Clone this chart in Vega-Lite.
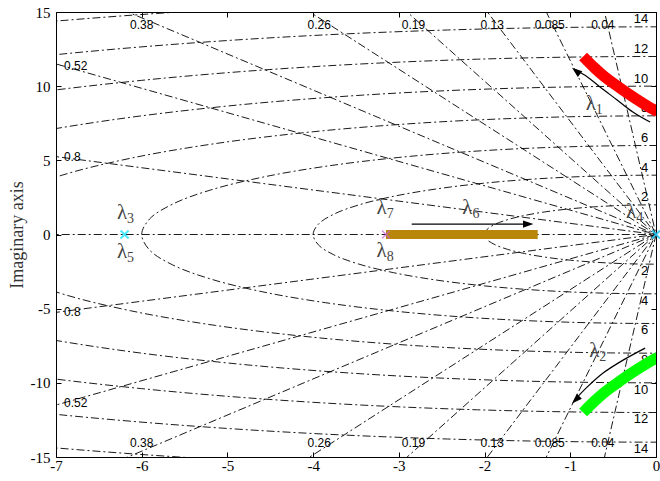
{
  "$schema": "https://vega.github.io/schema/vega-lite/v6.json",
  "width": 600,
  "height": 445,
  "autosize": "none",
  "padding": {"left": 56, "top": 12, "right": 4, "bottom": 24},
  "background": "white",
  "config": {"view": {"stroke": "black", "strokeWidth": 1}},
  "datasets": {
    "circles": [
      {"g":"c2","x":0.347,"y":-1.970},{"g":"c2","x":0,"y":-2},{"g":"c2","x":-0.347,"y":-1.970},{"g":"c2","x":-0.684,"y":-1.879},{"g":"c2","x":-1,"y":-1.732},{"g":"c2","x":-1.286,"y":-1.532},{"g":"c2","x":-1.532,"y":-1.286},{"g":"c2","x":-1.732,"y":-1},{"g":"c2","x":-1.879,"y":-0.684},{"g":"c2","x":-1.970,"y":-0.347},{"g":"c2","x":-2,"y":0},{"g":"c2","x":-1.970,"y":0.347},{"g":"c2","x":-1.879,"y":0.684},{"g":"c2","x":-1.732,"y":1},{"g":"c2","x":-1.532,"y":1.286},{"g":"c2","x":-1.286,"y":1.532},{"g":"c2","x":-1,"y":1.732},{"g":"c2","x":-0.684,"y":1.879},{"g":"c2","x":-0.347,"y":1.970},{"g":"c2","x":0,"y":2},{"g":"c2","x":0.347,"y":1.970},
      {"g":"c4","x":0.695,"y":-3.939},{"g":"c4","x":0,"y":-4},{"g":"c4","x":-0.695,"y":-3.939},{"g":"c4","x":-1.368,"y":-3.759},{"g":"c4","x":-2,"y":-3.464},{"g":"c4","x":-2.571,"y":-3.064},{"g":"c4","x":-3.064,"y":-2.571},{"g":"c4","x":-3.464,"y":-2},{"g":"c4","x":-3.759,"y":-1.368},{"g":"c4","x":-3.939,"y":-0.695},{"g":"c4","x":-4,"y":0},{"g":"c4","x":-3.939,"y":0.695},{"g":"c4","x":-3.759,"y":1.368},{"g":"c4","x":-3.464,"y":2},{"g":"c4","x":-3.064,"y":2.571},{"g":"c4","x":-2.571,"y":3.064},{"g":"c4","x":-2,"y":3.464},{"g":"c4","x":-1.368,"y":3.759},{"g":"c4","x":-0.695,"y":3.939},{"g":"c4","x":0,"y":4},{"g":"c4","x":0.695,"y":3.939},
      {"g":"c6","x":1.042,"y":-5.909},{"g":"c6","x":0,"y":-6},{"g":"c6","x":-1.042,"y":-5.909},{"g":"c6","x":-2.052,"y":-5.638},{"g":"c6","x":-3,"y":-5.196},{"g":"c6","x":-3.857,"y":-4.596},{"g":"c6","x":-4.596,"y":-3.857},{"g":"c6","x":-5.196,"y":-3},{"g":"c6","x":-5.638,"y":-2.052},{"g":"c6","x":-5.909,"y":-1.042},{"g":"c6","x":-6,"y":0},{"g":"c6","x":-5.909,"y":1.042},{"g":"c6","x":-5.638,"y":2.052},{"g":"c6","x":-5.196,"y":3},{"g":"c6","x":-4.596,"y":3.857},{"g":"c6","x":-3.857,"y":4.596},{"g":"c6","x":-3,"y":5.196},{"g":"c6","x":-2.052,"y":5.638},{"g":"c6","x":-1.042,"y":5.909},{"g":"c6","x":0,"y":6},{"g":"c6","x":1.042,"y":5.909},
      {"g":"c8","x":1.389,"y":-7.878},{"g":"c8","x":0,"y":-8},{"g":"c8","x":-1.389,"y":-7.878},{"g":"c8","x":-2.736,"y":-7.518},{"g":"c8","x":-4,"y":-6.928},{"g":"c8","x":-5.142,"y":-6.128},{"g":"c8","x":-6.128,"y":-5.142},{"g":"c8","x":-6.928,"y":-4},{"g":"c8","x":-7.518,"y":-2.736},{"g":"c8","x":-7.878,"y":-1.389},{"g":"c8","x":-8,"y":0},{"g":"c8","x":-7.878,"y":1.389},{"g":"c8","x":-7.518,"y":2.736},{"g":"c8","x":-6.928,"y":4},{"g":"c8","x":-6.128,"y":5.142},{"g":"c8","x":-5.142,"y":6.128},{"g":"c8","x":-4,"y":6.928},{"g":"c8","x":-2.736,"y":7.518},{"g":"c8","x":-1.389,"y":7.878},{"g":"c8","x":0,"y":8},{"g":"c8","x":1.389,"y":7.878},
      {"g":"c10u","x":-8.660,"y":5},{"g":"c10u","x":-7.660,"y":6.428},{"g":"c10u","x":-6.428,"y":7.660},{"g":"c10u","x":-5,"y":8.660},{"g":"c10u","x":-3.420,"y":9.397},{"g":"c10u","x":-1.736,"y":9.848},{"g":"c10u","x":0,"y":10},{"g":"c10u","x":1.736,"y":9.848},
      {"g":"c10l","x":-8.660,"y":-5},{"g":"c10l","x":-7.660,"y":-6.428},{"g":"c10l","x":-6.428,"y":-7.660},{"g":"c10l","x":-5,"y":-8.660},{"g":"c10l","x":-3.420,"y":-9.397},{"g":"c10l","x":-1.736,"y":-9.848},{"g":"c10l","x":0,"y":-10},{"g":"c10l","x":1.736,"y":-9.848},
      {"g":"c12u","x":-9.193,"y":7.713},{"g":"c12u","x":-7.713,"y":9.193},{"g":"c12u","x":-6,"y":10.392},{"g":"c12u","x":-4.104,"y":11.276},{"g":"c12u","x":-2.084,"y":11.818},{"g":"c12u","x":0,"y":12},{"g":"c12u","x":2.084,"y":11.818},
      {"g":"c12l","x":-9.193,"y":-7.713},{"g":"c12l","x":-7.713,"y":-9.193},{"g":"c12l","x":-6,"y":-10.392},{"g":"c12l","x":-4.104,"y":-11.276},{"g":"c12l","x":-2.084,"y":-11.818},{"g":"c12l","x":0,"y":-12},{"g":"c12l","x":2.084,"y":-11.818},
      {"g":"c14u","x":-8.999,"y":10.724},{"g":"c14u","x":-7,"y":12.124},{"g":"c14u","x":-4.788,"y":13.156},{"g":"c14u","x":-2.431,"y":13.787},{"g":"c14u","x":0,"y":14},{"g":"c14u","x":2.431,"y":13.787},
      {"g":"c14l","x":-8.999,"y":-10.724},{"g":"c14l","x":-7,"y":-12.124},{"g":"c14l","x":-4.788,"y":-13.156},{"g":"c14l","x":-2.431,"y":-13.787},{"g":"c14l","x":0,"y":-14},{"g":"c14l","x":2.431,"y":-13.787},
      {"g":"c16u","x":-10.285,"y":12.257},{"g":"c16u","x":-8,"y":13.856},{"g":"c16u","x":-5.472,"y":15.035},{"g":"c16u","x":-2.778,"y":15.757},{"g":"c16u","x":0,"y":16},{"g":"c16u","x":2.778,"y":15.757},
      {"g":"c16l","x":-10.285,"y":-12.257},{"g":"c16l","x":-8,"y":-13.856},{"g":"c16l","x":-5.472,"y":-15.035},{"g":"c16l","x":-2.778,"y":-15.757},{"g":"c16l","x":0,"y":-16},{"g":"c16l","x":2.778,"y":-15.757}
    ],
    "rays": [
      {"g":"z04","x":-0.8,"y":19.984},{"g":"z04","x":0,"y":0},{"g":"z04","x":-0.8,"y":-19.984},
      {"g":"z085","x":-1.7,"y":19.928},{"g":"z085","x":0,"y":0},{"g":"z085","x":-1.7,"y":-19.928},
      {"g":"z13","x":-2.6,"y":19.830},{"g":"z13","x":0,"y":0},{"g":"z13","x":-2.6,"y":-19.830},
      {"g":"z19","x":-3.8,"y":19.636},{"g":"z19","x":0,"y":0},{"g":"z19","x":-3.8,"y":-19.636},
      {"g":"z26","x":-5.2,"y":19.312},{"g":"z26","x":0,"y":0},{"g":"z26","x":-5.2,"y":-19.312},
      {"g":"z38","x":-7.6,"y":18.5},{"g":"z38","x":0,"y":0},{"g":"z38","x":-7.6,"y":-18.5},
      {"g":"z52","x":-10.4,"y":17.083},{"g":"z52","x":0,"y":0},{"g":"z52","x":-10.4,"y":-17.083},
      {"g":"z8","x":-16,"y":12},{"g":"z8","x":0,"y":0},{"g":"z8","x":-16,"y":-12},
      {"g":"z1","x":-20,"y":0},{"g":"z1","x":0,"y":0}
    ],
    "zetaLabels": [
      {"t":"0.38","x":-6.0,"y":14.1},{"t":"0.26","x":-3.93,"y":14.1},{"t":"0.19","x":-2.83,"y":14.1},{"t":"0.13","x":-1.91,"y":14.1},{"t":"0.085","x":-1.24,"y":14.1},{"t":"0.04","x":-0.62,"y":14.1},
      {"t":"0.38","x":-6.0,"y":-14.05},{"t":"0.26","x":-3.93,"y":-14.05},{"t":"0.19","x":-2.83,"y":-14.05},{"t":"0.13","x":-1.91,"y":-14.05},{"t":"0.085","x":-1.24,"y":-14.05},{"t":"0.04","x":-0.62,"y":-14.05},
      {"t":"0.52","x":-6.77,"y":11.33},{"t":"0.52","x":-6.77,"y":-11.33},{"t":"0.8","x":-6.81,"y":5.2},{"t":"0.8","x":-6.81,"y":-5.2}
    ],
    "omegaLabels": [
      {"t":"2","x":-0.09,"y":2.5},{"t":"4","x":-0.09,"y":4.5},{"t":"6","x":-0.09,"y":6.5},{"t":"8","x":-0.09,"y":8.5},{"t":"10","x":-0.09,"y":10.5},{"t":"12","x":-0.09,"y":12.5},{"t":"14","x":-0.09,"y":14.5},
      {"t":"2","x":-0.09,"y":-2.45},{"t":"4","x":-0.09,"y":-4.45},{"t":"6","x":-0.09,"y":-6.45},{"t":"8","x":-0.09,"y":-8.45},{"t":"10","x":-0.09,"y":-10.45},{"t":"12","x":-0.09,"y":-12.45},{"t":"14","x":-0.09,"y":-14.45}
    ],
    "lam1": [
      {"x":-0.85,"y":12.0},{"x":-0.72,"y":11.25},{"x":-0.617,"y":10.72},{"x":-0.42,"y":9.88},{"x":-0.22,"y":9.1},{"x":-0.03,"y":8.43},{"x":0.02,"y":8.28}
    ],
    "lam2": [
      {"x":-0.85,"y":-12.0},{"x":-0.72,"y":-11.25},{"x":-0.617,"y":-10.72},{"x":-0.42,"y":-9.88},{"x":-0.22,"y":-9.1},{"x":-0.03,"y":-8.43},{"x":0.02,"y":-8.28}
    ],
    "lam6": [{"x":-3.15,"y":0},{"x":-1.38,"y":0}],
    "poleCyan": [{"x":-6.2,"y":0},{"x":0,"y":0}],
    "poleMag": [{"x":0,"y":0},{"x":-3.15,"y":0}],
    "arrows": [
      {"g":"a1","x":-0.069,"y":7.58},{"g":"a1","x":-0.27,"y":8.26},{"g":"a1","x":-0.454,"y":9.07},{"g":"a1","x":-0.653,"y":9.94},{"g":"a1","x":-0.80,"y":10.62},{"g":"a1","x":-0.94,"y":11.1},
      {"g":"a2","x":-0.127,"y":-7.66},{"g":"a2","x":-0.384,"y":-8.47},{"g":"a2","x":-0.617,"y":-9.34},{"g":"a2","x":-0.804,"y":-10.29},{"g":"a2","x":-0.94,"y":-11.1},
      {"g":"a6","x":-2.85,"y":0.70},{"g":"a6","x":-1.5,"y":0.70}
    ],
    "head1": [{"x":-0.98,"y":11.25}],
    "head2": [{"x":-0.98,"y":-11.4}],
    "head6": [{"x":-1.43,"y":0.70}],
    "lamLabels": [
      {"d":"1","x":-0.76,"y":8.8},{"d":"2","x":-0.72,"y":-7.86},{"d":"3","x":-6.23,"y":1.45},{"d":"5","x":-6.23,"y":-1.18},
      {"d":"7","x":-3.2,"y":1.78},{"d":"8","x":-3.2,"y":-1.12},{"d":"6","x":-2.2,"y":1.78},{"d":"4","x":-0.29,"y":1.51}
    ]
  },
  "encoding": {
    "x": {"field": "x", "type": "quantitative", "scale": {"domain": [-7, 0], "nice": false, "zero": false}, "axis": null},
    "y": {"field": "y", "type": "quantitative", "scale": {"domain": [-15, 15], "nice": false, "zero": false}, "axis": null}
  },
  "layer": [
    {
      "data": {"name": "circles"},
      "mark": {"type": "line", "clip": true, "interpolate": "catmull-rom", "color": "black", "strokeWidth": 0.9, "strokeDash": [8, 3, 2, 3]},
      "encoding": {
        "detail": {"field": "g"},
        "order": {"value": null},
        "x": {"field": "x", "type": "quantitative", "scale": {"domain": [-7, 0], "nice": false, "zero": false},
              "axis": {"orient": "top", "values": [-7,-6,-5,-4,-3,-2,-1,0], "labels": false, "tickSize": -5, "tickColor": "black", "domain": false, "title": null, "grid": false}},
        "y": {"field": "y", "type": "quantitative", "scale": {"domain": [-15, 15], "nice": false, "zero": false},
              "axis": {"orient": "right", "values": [-15,-10,-5,0,5,10,15], "labels": false, "tickSize": -5, "tickColor": "black", "domain": false, "title": null, "grid": false}}
      }
    },
    {
      "data": {"name": "rays"},
      "mark": {"type": "line", "clip": true, "color": "black", "strokeWidth": 0.9, "strokeDash": [8, 3, 2, 3]},
      "encoding": {
        "detail": {"field": "g"},
        "order": {"value": null},
        "x": {"field": "x", "type": "quantitative", "scale": {"domain": [-7, 0], "nice": false, "zero": false},
              "axis": {"orient": "bottom", "values": [-7,-6,-5,-4,-3,-2,-1,0], "labelExpr": "'' + datum.value", "tickSize": -5, "tickColor": "black", "labelPadding": 6, "labelFont": "Liberation Serif", "labelFontSize": 15, "labelColor": "black", "labelFlush": false, "labelOverlap": false, "domain": false, "title": null, "grid": false}},
        "y": {"field": "y", "type": "quantitative", "scale": {"domain": [-15, 15], "nice": false, "zero": false},
              "axis": {"orient": "left", "values": [-15,-10,-5,0,5,10,15], "labelExpr": "'' + datum.value", "tickSize": -5, "tickColor": "black", "labelPadding": 11, "labelFont": "Liberation Serif", "labelFontSize": 15, "labelColor": "black", "labelFlush": false, "labelOverlap": false, "domain": false, "grid": false,
                       "title": "Imaginary axis", "titleFont": "Liberation Serif", "titleFontSize": 18, "titleFontWeight": "normal", "titleColor": "#333", "titlePadding": 4}}
      }
    },
    {
      "data": {"name": "zetaLabels"},
      "mark": {"type": "text", "font": "Liberation Sans", "fontSize": 12, "color": "black", "align": "center", "baseline": "middle"},
      "encoding": {"text": {"field": "t"}}
    },
    {
      "data": {"name": "omegaLabels"},
      "mark": {"type": "text", "font": "Liberation Sans", "fontSize": 13, "color": "black", "align": "right", "baseline": "middle"},
      "encoding": {"text": {"field": "t"}}
    },
    {
      "data": {"name": "lam1"},
      "mark": {"type": "line", "clip": true, "interpolate": "monotone", "color": "#ff0000", "strokeWidth": 11},
      "encoding": {"order": {"value": null}}
    },
    {
      "data": {"name": "lam2"},
      "mark": {"type": "line", "clip": true, "interpolate": "monotone", "color": "#00ff00", "strokeWidth": 11},
      "encoding": {"order": {"value": null}}
    },
    {
      "data": {"name": "lam6"},
      "mark": {"type": "line", "color": "#b8860b", "strokeWidth": 9},
      "encoding": {"order": {"value": null}}
    },
    {
      "data": {"name": "poleMag"},
      "mark": {"type": "point", "shape": "M-1,-1L1,1M-1,1L1,-1", "filled": false, "color": "#cc66cc", "strokeWidth": 1.5, "size": 60, "clip": false},
      "encoding": {}
    },
    {
      "data": {"name": "poleCyan"},
      "mark": {"type": "point", "shape": "M-1,-1L1,1M-1,1L1,-1", "filled": false, "color": "#00e0ff", "strokeWidth": 2, "size": 64, "clip": false},
      "encoding": {}
    },
    {
      "data": {"name": "arrows"},
      "mark": {"type": "line", "interpolate": "catmull-rom", "color": "black", "strokeWidth": 1.2},
      "encoding": {"detail": {"field": "g"}, "order": {"value": null}}
    },
    {
      "data": {"name": "head1"},
      "mark": {"type": "point", "shape": "M0,0L0.45,1.3L-0.45,1.3Z", "filled": true, "color": "black", "size": 256, "angle": 309, "opacity": 1},
      "encoding": {}
    },
    {
      "data": {"name": "head2"},
      "mark": {"type": "point", "shape": "M0,0L0.45,1.3L-0.45,1.3Z", "filled": true, "color": "black", "size": 256, "angle": 225, "opacity": 1},
      "encoding": {}
    },
    {
      "data": {"name": "head6"},
      "mark": {"type": "point", "shape": "M0,0L0.45,1.3L-0.45,1.3Z", "filled": true, "color": "black", "size": 256, "angle": 90, "opacity": 1},
      "encoding": {}
    },
    {
      "data": {"name": "lamLabels"},
      "mark": {"type": "text", "font": "Liberation Serif", "fontSize": 21, "color": "#444", "align": "center", "baseline": "middle"},
      "encoding": {"text": {"value": "λ"}}
    },
    {
      "data": {"name": "lamLabels"},
      "mark": {"type": "text", "font": "Liberation Serif", "fontSize": 14, "color": "#444", "align": "left", "baseline": "middle", "dx": 5, "dy": 6},
      "encoding": {"text": {"field": "d"}}
    }
  ],
  "resolve": {"axis": {"x": "independent", "y": "independent"}}
}
